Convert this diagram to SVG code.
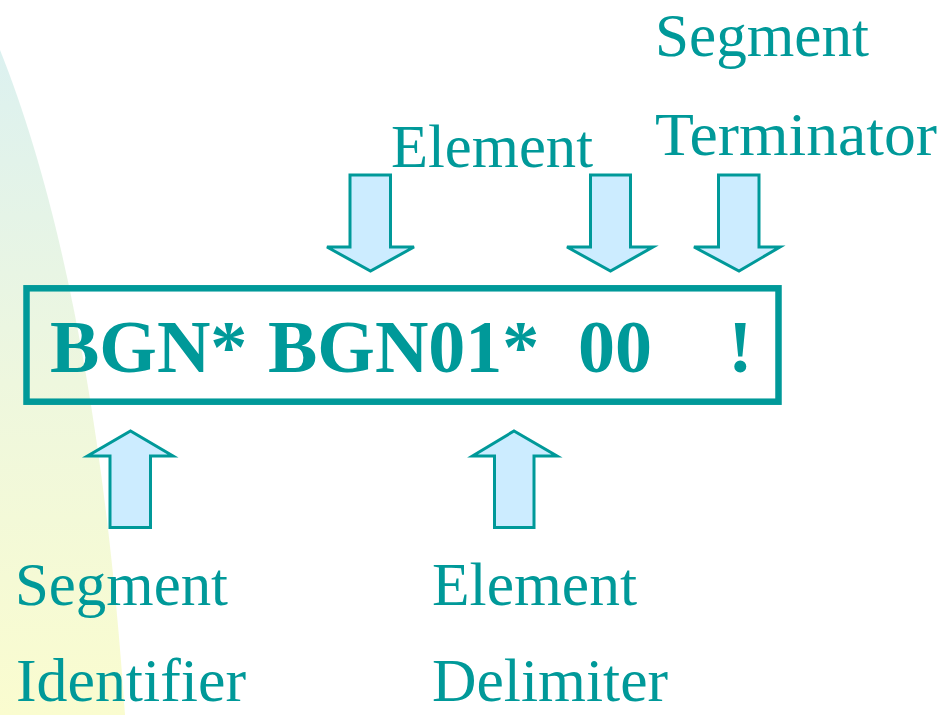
<svg xmlns="http://www.w3.org/2000/svg" width="945" height="715" viewBox="0 0 945 715">
  <defs>
    <linearGradient id="bg" x1="0" y1="0" x2="0" y2="1">
      <stop offset="0" stop-color="#dcf1f0"/>
      <stop offset="0.5" stop-color="#eef7de"/>
      <stop offset="1" stop-color="#fafccf"/>
    </linearGradient>
    <style>
      .lbl { font-family: "Liberation Serif", "Times New Roman", serif; font-size: 62px; fill: #009999; }
      .code { font-family: "Liberation Serif", "Times New Roman", serif; font-size: 74px; font-weight: bold; fill: #009999; }
      .arrow { fill: #CCECFF; stroke: #009999; stroke-width: 3; stroke-linejoin: miter; }
    </style>
  </defs>
  <rect width="945" height="715" fill="#ffffff"/>
  <path d="M0,50 C60,200 105,420 125,715 L0,715 Z" fill="url(#bg)"/>

  <g id="segment-box">
    <rect x="26.5" y="288.3" width="752" height="113.4" fill="none" stroke="#009999" stroke-width="6.5"/>
    <text class="code" xml:space="preserve"><tspan x="50" y="372">BGN*</tspan><tspan x="268" y="372">BGN01*</tspan><tspan x="578" y="372">00</tspan><tspan x="728" y="372">!</tspan></text>
  </g>

  <g id="connectors">
    <path class="arrow" d="M350,175 L390.5,175 L390.5,247 L414,247 L370.5,271 L327,247 L350,247 Z"/>
    <path class="arrow" d="M590.5,175 L630.5,175 L630.5,247 L653,247 L610.5,271 L567,247 L590.5,247 Z"/>
    <path class="arrow" d="M718.5,175 L759,175 L759,247 L780,247 L739,271 L694,247 L718.5,247 Z"/>
    <path class="arrow" d="M110,527.5 L150.5,527.5 L150.5,456 L173,456 L130.5,431 L87.5,456 L110,456 Z"/>
    <path class="arrow" d="M494.5,527.5 L534,527.5 L534,456 L557,456 L514,431 L472.5,456 L494.5,456 Z"/>
  </g>

  <g id="label-element-top">
    <text class="lbl" x="391" y="167" textLength="202" lengthAdjust="spacingAndGlyphs">Element</text>
  </g>
  <g id="label-segment-terminator">
    <text class="lbl" x="655" y="56" textLength="214" lengthAdjust="spacingAndGlyphs">Segment</text>
    <text class="lbl" x="655" y="155" textLength="282" lengthAdjust="spacingAndGlyphs">Terminator</text>
  </g>
  <g id="label-segment-identifier">
    <text class="lbl" x="15" y="605" textLength="213" lengthAdjust="spacingAndGlyphs">Segment</text>
    <text class="lbl" x="16" y="701" textLength="230" lengthAdjust="spacingAndGlyphs">Identifier</text>
  </g>
  <g id="label-element-delimiter">
    <text class="lbl" x="432" y="605" textLength="205" lengthAdjust="spacingAndGlyphs">Element</text>
    <text class="lbl" x="432" y="701" textLength="236" lengthAdjust="spacingAndGlyphs">Delimiter</text>
  </g>
</svg>
